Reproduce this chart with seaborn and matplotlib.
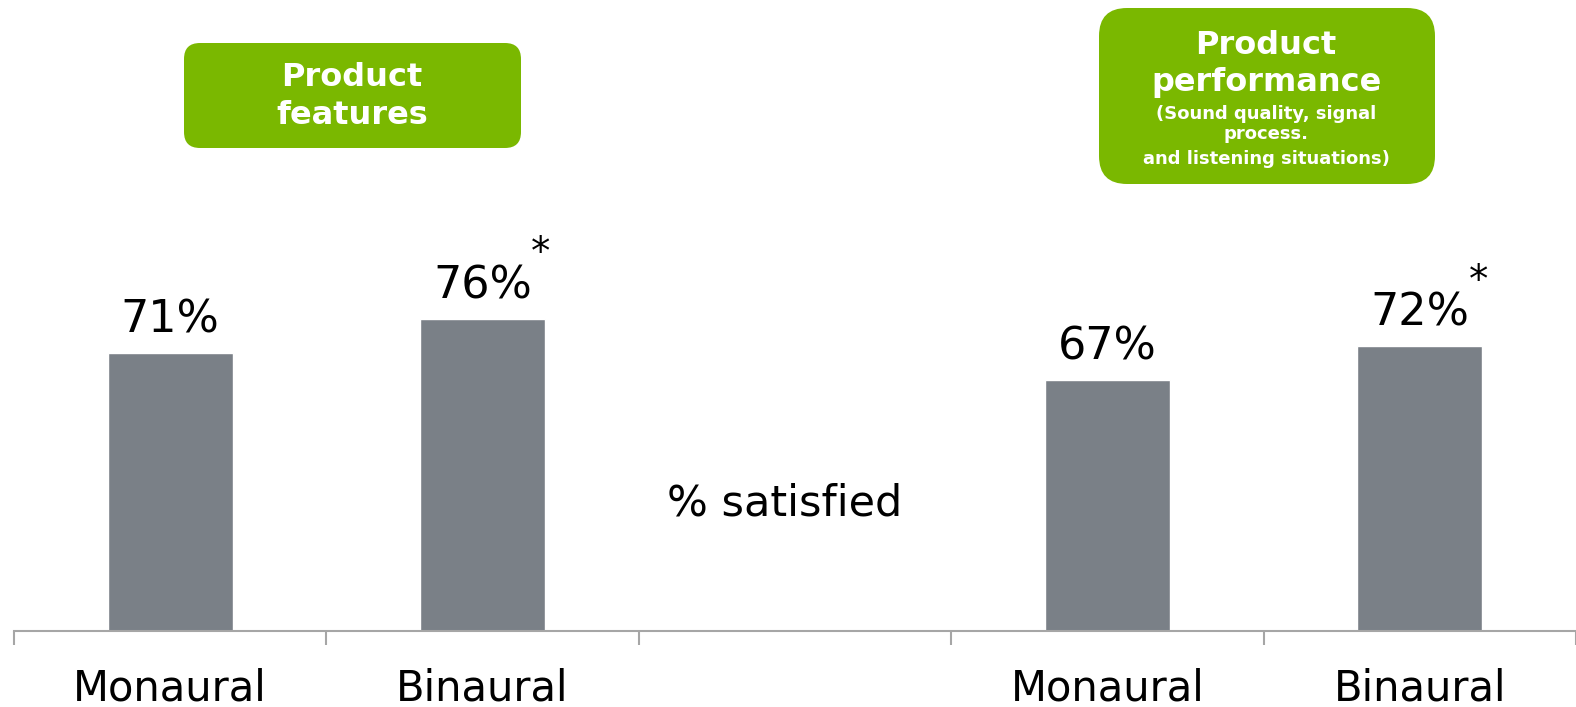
import matplotlib
matplotlib.use("Agg")
import pandas as pd
import seaborn as sns
import matplotlib.pyplot as plt
from matplotlib.patches import FancyBboxPatch

# Data
slots = ["mono_feat", "bin_feat", "gap", "mono_perf", "bin_perf"]
tick_labels = ["Monaural", "Binaural", "", "Monaural", "Binaural"]
values = [71, 76, None, 67, 72]
significant = [False, True, False, False, True]

BAR_COLOR = "#7a8087"
GREEN = "#7ab800"
W, H = 1576, 707

sns.set_theme(style="white")
plt.rcParams["font.family"] = ["DejaVu Sans"]

df = pd.DataFrame({"slot": slots, "value": values})

fig = plt.figure(figsize=(W / 100, H / 100), dpi=100)
ax = fig.add_axes([14 / W, (H - 631) / H, (W - 14) / W, 631 / H])

sns.barplot(data=df, x="slot", y="value", order=slots, color=BAR_COLOR,
            width=0.4, saturation=1, ax=ax)

ax.set_xlim(-0.5, len(slots) - 0.5)
ax.set_ylim(30.1, 122.8)
ax.set_xlabel("")
ax.set_ylabel("")
ax.set_yticks([])

# boundary ticks, labels centered under categories
ax.set_xticks([i - 0.5 for i in range(len(slots) + 1)])
ax.set_xticklabels([])
ax.set_xticks(range(len(slots)), minor=True)
ax.set_xticklabels(tick_labels, minor=True, fontsize=30, color="black")
ax.tick_params(axis="x", which="major", length=10, width=1.5, color="#a6a6a6",
               direction="out", bottom=True)
ax.tick_params(axis="x", which="minor", length=0, pad=26)

for side in ["top", "right", "left"]:
    ax.spines[side].set_visible(False)
ax.spines["bottom"].set_color("#a6a6a6")
ax.spines["bottom"].set_linewidth(1.5)

# value labels
for i, (v, sig) in enumerate(zip(values, significant)):
    if v is None:
        continue
    ax.annotate(f"{v}%", (i, v), xytext=(0, 8), textcoords="offset points",
                ha="center", va="bottom", fontsize=32, color="black")
    if sig:
        ax.annotate("*", (i, v), xytext=(42, 47), textcoords="offset points",
                    ha="center", va="center", fontsize=28, color="black")

fig.text(785 / W, 1 - 503 / H, "% satisfied", ha="center", va="center",
         fontsize=31, color="black")

# green header boxes (figure pixel coords)
def header_box(x0, y0, x1, y1, rad):
    w, h = x1 - x0, y1 - y0
    box = FancyBboxPatch((x0 / W, 1 - y1 / H), w / W, h / H,
                         boxstyle=f"round,pad=0,rounding_size={rad / W}",
                         transform=fig.transFigure, facecolor=GREEN,
                         edgecolor="none", mutation_aspect=W / H)
    fig.add_artist(box)

def box_line(x, y, s, size):
    fig.text(x / W, 1 - y / H, s, ha="center", va="center", fontsize=size,
             fontweight="bold", color="white")

header_box(184, 43, 521, 148, 16)
box_line(352, 78, "Product", 23)
box_line(352, 116, "features", 23)

header_box(1099, 8, 1435, 184, 28)
box_line(1266, 45, "Product", 23)
box_line(1266, 83, "performance", 23)
box_line(1266, 114, "(Sound quality, signal", 13)
box_line(1266, 134, "process.", 13)
box_line(1266, 159, "and listening situations)", 13)

fig.savefig("out.png", dpi=100)
